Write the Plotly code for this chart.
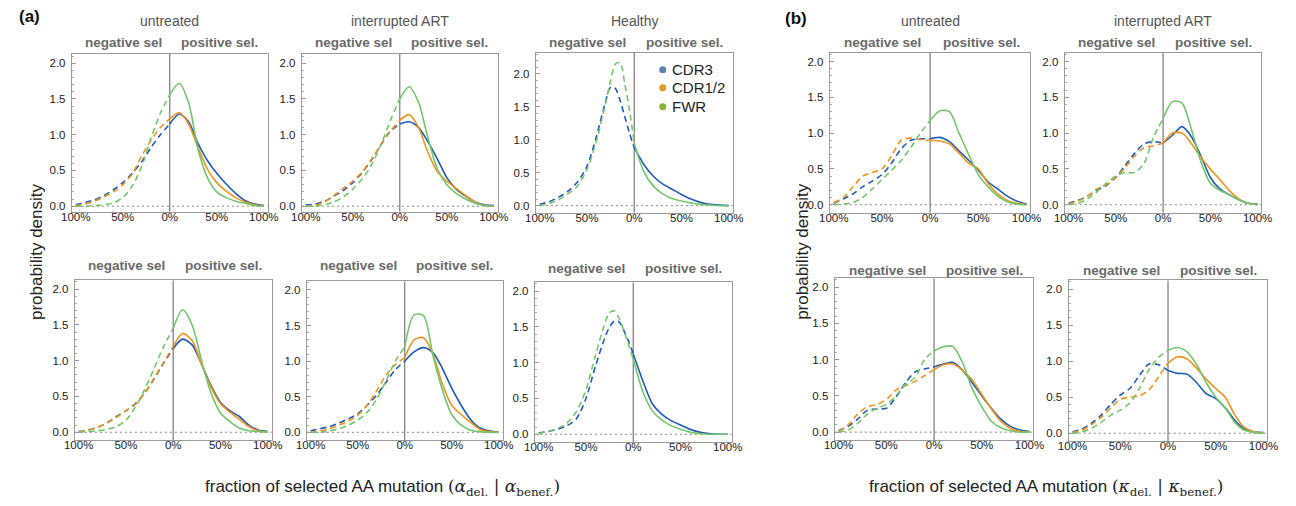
import plotly.graph_objects as go

W, H = 1296, 506

# ---------------- data ----------------
X = [-1.0, -0.9, -0.8, -0.7, -0.6, -0.5, -0.4, -0.3, -0.2, -0.1, 0.0,
     0.1, 0.2, 0.3, 0.4, 0.5, 0.6, 0.7, 0.8, 0.9, 1.0]
XH = [-1.0, -0.9, -0.8, -0.7, -0.6, -0.5, -0.4, -0.3, -0.25, -0.2, -0.15, -0.1, -0.05, 0.0,
      0.1, 0.2, 0.3, 0.4, 0.5, 0.6, 0.7, 0.8, 0.9, 1.0]

# (a) alpha, untreated, top
a11_cdr3 = [0.02, 0.05, 0.09, 0.15, 0.23, 0.33, 0.46, 0.62, 0.82, 1.0, 1.15, 1.29, 1.18, 0.88, 0.64, 0.46, 0.31, 0.18, 0.08, 0.03, 0.01]
a11_cdr12 = [0.01, 0.03, 0.07, 0.13, 0.2, 0.3, 0.45, 0.7, 0.92, 1.1, 1.22, 1.31, 1.15, 0.82, 0.52, 0.33, 0.21, 0.12, 0.06, 0.02, 0.0]
a11_fwr = [0.0, 0.0, 0.01, 0.02, 0.05, 0.12, 0.28, 0.55, 0.95, 1.3, 1.56, 1.72, 1.45, 0.8, 0.4, 0.2, 0.12, 0.07, 0.04, 0.01, 0.0]
# (a) alpha, interrupted ART, top
a12_cdr3 = [0.02, 0.03, 0.07, 0.14, 0.22, 0.33, 0.47, 0.65, 0.86, 1.05, 1.15, 1.18, 1.1, 0.9, 0.66, 0.4, 0.24, 0.14, 0.06, 0.02, 0.01]
a12_cdr12 = [0.0, 0.01, 0.06, 0.15, 0.25, 0.35, 0.48, 0.66, 0.86, 1.05, 1.2, 1.28, 1.1, 0.75, 0.48, 0.35, 0.25, 0.15, 0.06, 0.01, 0.0]
a12_fwr = [0.0, 0.0, 0.02, 0.06, 0.13, 0.24, 0.38, 0.58, 0.86, 1.2, 1.5, 1.67, 1.45, 0.95, 0.52, 0.3, 0.18, 0.1, 0.04, 0.01, 0.0]
# (a) alpha, Healthy, top
a13_cdr3 = [0.02, 0.06, 0.13, 0.22, 0.36, 0.6, 1.05, 1.6, 1.8, 1.78, 1.6, 1.35, 1.1, 0.88, 0.63, 0.45, 0.33, 0.25, 0.17, 0.1, 0.05, 0.02, 0.01, 0.0]
a13_fwr = [0.0, 0.03, 0.09, 0.18, 0.3, 0.55, 0.98, 1.58, 1.9, 2.15, 2.17, 1.85, 1.45, 0.95, 0.52, 0.3, 0.18, 0.11, 0.07, 0.04, 0.02, 0.01, 0.0, 0.0]
# (a) alpha, untreated, bottom
a21_cdr3 = [0.01, 0.03, 0.07, 0.13, 0.22, 0.3, 0.4, 0.55, 0.75, 0.97, 1.17, 1.3, 1.22, 0.95, 0.65, 0.42, 0.3, 0.22, 0.1, 0.03, 0.01]
a21_cdr12 = [0.01, 0.03, 0.07, 0.13, 0.21, 0.3, 0.39, 0.55, 0.76, 0.98, 1.2, 1.38, 1.28, 0.95, 0.63, 0.4, 0.28, 0.18, 0.08, 0.02, 0.0]
a21_fwr = [0.0, 0.01, 0.02, 0.04, 0.08, 0.17, 0.35, 0.6, 0.9, 1.2, 1.45, 1.71, 1.5, 1.0, 0.55, 0.27, 0.15, 0.06, 0.02, 0.01, 0.0]
# (a) alpha, interrupted ART, bottom
a22_cdr3 = [0.02, 0.05, 0.08, 0.13, 0.19, 0.26, 0.38, 0.52, 0.7, 0.88, 1.0, 1.13, 1.19, 1.12, 0.9, 0.62, 0.38, 0.18, 0.06, 0.02, 0.0]
a22_cdr12 = [0.0, 0.02, 0.05, 0.1, 0.16, 0.24, 0.38, 0.58, 0.8, 0.95, 1.05, 1.3, 1.33, 1.1, 0.68, 0.38, 0.25, 0.14, 0.04, 0.01, 0.0]
a22_fwr = [0.0, 0.0, 0.02, 0.05, 0.1, 0.17, 0.28, 0.46, 0.72, 1.0, 1.2, 1.65, 1.64, 1.08, 0.6, 0.25, 0.1, 0.03, 0.01, 0.0, 0.0]
# (a) alpha, Healthy, bottom
a23_cdr3 = [0.02, 0.04, 0.07, 0.12, 0.22, 0.5, 0.95, 1.35, 1.5, 1.58, 1.57, 1.45, 1.3, 1.12, 0.75, 0.43, 0.28, 0.19, 0.13, 0.07, 0.03, 0.01, 0.0, 0.0]
a23_fwr = [0.01, 0.04, 0.08, 0.16, 0.32, 0.62, 1.1, 1.55, 1.7, 1.72, 1.62, 1.45, 1.25, 1.05, 0.6, 0.33, 0.2, 0.12, 0.07, 0.03, 0.01, 0.0, 0.0, 0.0]

# (b) kappa, untreated, top
b11_cdr3 = [0.02, 0.08, 0.15, 0.25, 0.33, 0.42, 0.58, 0.78, 0.9, 0.92, 0.92, 0.94, 0.88, 0.75, 0.62, 0.48, 0.32, 0.22, 0.12, 0.05, 0.01]
b11_cdr12 = [0.03, 0.1, 0.25, 0.4, 0.45, 0.5, 0.68, 0.9, 0.93, 0.91, 0.9, 0.89, 0.85, 0.72, 0.58, 0.5, 0.3, 0.15, 0.06, 0.02, 0.0]
b11_fwr = [0.0, 0.01, 0.03, 0.1, 0.22, 0.35, 0.48, 0.62, 0.8, 1.0, 1.18, 1.31, 1.3, 1.0, 0.7, 0.42, 0.25, 0.12, 0.04, 0.01, 0.0]
# (b) kappa, interrupted ART, top
b12_cdr3 = [0.02, 0.06, 0.12, 0.2, 0.27, 0.38, 0.55, 0.72, 0.85, 0.88, 0.86, 0.97, 1.09, 0.95, 0.68, 0.38, 0.22, 0.14, 0.07, 0.02, 0.01]
b12_cdr12 = [0.01, 0.05, 0.12, 0.22, 0.28, 0.38, 0.52, 0.68, 0.8, 0.82, 0.86, 1.0, 1.0, 0.85, 0.66, 0.5, 0.35, 0.2, 0.08, 0.02, 0.0]
b12_fwr = [0.0, 0.02, 0.08, 0.18, 0.3, 0.4, 0.45, 0.45, 0.58, 0.95, 1.2, 1.44, 1.42, 1.05, 0.6, 0.3, 0.2, 0.14, 0.07, 0.02, 0.0]
# (b) kappa, untreated, bottom
b21_cdr3 = [0.02, 0.08, 0.18, 0.3, 0.32, 0.33, 0.48, 0.68, 0.83, 0.87, 0.9, 0.94, 0.96, 0.85, 0.68, 0.5, 0.33, 0.18, 0.08, 0.03, 0.01]
b21_cdr12 = [0.01, 0.1, 0.25, 0.35, 0.38, 0.45, 0.58, 0.64, 0.7, 0.78, 0.86, 0.93, 0.94, 0.85, 0.72, 0.52, 0.32, 0.15, 0.05, 0.01, 0.0]
b21_fwr = [0.0, 0.03, 0.12, 0.25, 0.33, 0.38, 0.5, 0.66, 0.75, 1.0, 1.12, 1.18, 1.18, 0.95, 0.6, 0.35, 0.15, 0.06, 0.02, 0.0, 0.0]
# (b) kappa, interrupted ART, bottom
b22_cdr3 = [0.02, 0.06, 0.14, 0.25, 0.4, 0.53, 0.62, 0.8, 0.96, 0.95, 0.87, 0.83, 0.82, 0.7, 0.55, 0.48, 0.35, 0.18, 0.06, 0.02, 0.01]
b22_cdr12 = [0.01, 0.04, 0.12, 0.22, 0.35, 0.47, 0.5, 0.52, 0.6, 0.78, 0.97, 1.06, 1.03, 0.9, 0.75, 0.62, 0.5, 0.25, 0.08, 0.02, 0.0]
b22_fwr = [0.0, 0.02, 0.07, 0.15, 0.25, 0.32, 0.42, 0.62, 0.88, 1.05, 1.15, 1.19, 1.13, 0.95, 0.7, 0.5, 0.35, 0.15, 0.04, 0.01, 0.0]

X_TICKS = [-1, -0.5, 0, 0.5, 1]
X_TICK_TEXT = ["100%", "50%", "0%", "50%", "100%"]
Y_TICKS = [0, 0.5, 1.0, 1.5, 2.0]
SERIES = ["CDR3", "CDR1/2", "FWR"]

# ---------------- styles ----------------
COL = {"CDR3": "#1f5cb8", "CDR1/2": "#f0931a", "FWR": "#72c66b"}
DOT = {"CDR3": "#5e81b5", "CDR1/2": "#e19c24", "FWR": "#8fb032"}
FONT = "Liberation Sans, Arial, sans-serif"

# panel: (x0px, x1px, y0px, y1px, yrange, xgrid, {series: values}, title)
panels = [
    (62, 261, 54, 212, [-0.075, 2.13], X, {"CDR3": a11_cdr3, "CDR1/2": a11_cdr12, "FWR": a11_fwr}, "untreated"),
    (296, 495, 54, 212, [-0.075, 2.13], X, {"CDR3": a12_cdr3, "CDR1/2": a12_cdr12, "FWR": a12_fwr}, "interrupted ART"),
    (534, 734, 53, 213, [-0.105, 2.32], XH, {"CDR3": a13_cdr3, "FWR": a13_fwr}, "Healthy"),
    (65, 265, 281, 441, [-0.11, 2.12], X, {"CDR3": a21_cdr3, "CDR1/2": a21_cdr12, "FWR": a21_fwr}, None),
    (301, 500, 282, 441, [-0.11, 2.12], X, {"CDR3": a22_cdr3, "CDR1/2": a22_cdr12, "FWR": a22_fwr}, None),
    (533, 733, 283, 443, [-0.11, 2.12], XH, {"CDR3": a23_cdr3, "FWR": a23_fwr}, None),
    (833, 1037, 53, 213, [-0.11, 2.12], X, {"CDR3": b11_cdr3, "CDR1/2": b11_cdr12, "FWR": b11_fwr}, "untreated"),
    (1072, 1272, 53, 213, [-0.11, 2.12], X, {"CDR3": b12_cdr3, "CDR1/2": b12_cdr12, "FWR": b12_fwr}, "interrupted ART"),
    (838, 1040, 279, 441, [-0.11, 2.12], X, {"CDR3": b21_cdr3, "CDR1/2": b21_cdr12, "FWR": b21_fwr}, None),
    (1076, 1278, 281, 442, [-0.11, 2.12], X, {"CDR3": b22_cdr3, "CDR1/2": b22_cdr12, "FWR": b22_fwr}, None),
]
sel_label_y = [42.7, 42.7, 42.7, 266, 266, 269, 42.7, 42.7, 271, 271]

fig = go.Figure()
shapes, annotations = [], []
layout = {}

for i, (px0, px1, py0, py1, yr, xg, series, title) in enumerate(panels, start=1):
    key = "" if i == 1 else str(i)
    xa, ya = f"x{key}", f"y{key}"
    for name in SERIES:
        if name not in series:
            continue
        vals = series[name]
        neg = [(x, v) for x, v in zip(xg, vals) if x <= 0]
        pos = [(x, v) for x, v in zip(xg, vals) if x >= 0]
        for part, dash in ((neg, "6px,4px"), (pos, "solid")):
            fig.add_trace(go.Scatter(
                x=[p[0] for p in part], y=[p[1] for p in part],
                mode="lines", line=dict(color=COL[name], width=1.6, dash=dash, shape="spline", smoothing=0.8),
                xaxis=xa, yaxis=ya, showlegend=False, hoverinfo="skip"))
    layout[f"xaxis{key}"] = dict(
        domain=[px0 / W, px1 / W], anchor=ya, range=[-1.04, 1.04],
        tickvals=X_TICKS, ticktext=X_TICK_TEXT, ticks="", showgrid=False, zeroline=False,
        showline=True, mirror=True, linecolor="#9a9a9a", linewidth=1.3,
        tickfont=dict(family=FONT, size=11.5, color="#222"), ticklabelstandoff=-6)
    layout[f"yaxis{key}"] = dict(
        domain=[1 - py1 / H, 1 - py0 / H], anchor=xa, range=yr,
        tickvals=Y_TICKS, tickformat=".1f", ticks="inside", ticklen=4, tickcolor="#999",
        minor=dict(ticks="inside", ticklen=2, dtick=0.1, tickcolor="#aaa", showgrid=False),
        showgrid=False, zeroline=False,
        showline=True, mirror=True, linecolor="#9a9a9a", linewidth=1.3,
        tickfont=dict(family=FONT, size=11.5, color="#222"), ticklabelstandoff=3)
    # vertical 0 line and dotted zero baseline
    shapes.append(dict(type="line", xref=xa, yref=f"{ya} domain", x0=0, x1=0, y0=0, y1=1,
                       line=dict(color="#7a7a7a", width=1.2), layer="below"))
    shapes.append(dict(type="line", xref=f"{xa} domain", yref=ya, x0=0, x1=1, y0=0, y1=0,
                       line=dict(color="#888", width=1, dash="2px,3px"), layer="below"))
    # labels
    ly = sel_label_y[i - 1]
    annotations.append(dict(text="<b>negative sel</b>", xref=xa, x=-0.49, yref="paper", y=1 - ly / H,
                            showarrow=False, font=dict(family=FONT, size=13.5, color="#6a6a6a"),
                            xanchor="center", yanchor="middle"))
    annotations.append(dict(text="<b>positive sel.</b>", xref=xa, x=0.53, yref="paper", y=1 - ly / H,
                            showarrow=False, font=dict(family=FONT, size=13.5, color="#6a6a6a"),
                            xanchor="center", yanchor="middle"))
    if title:
        annotations.append(dict(text=title, xref=xa, x=0, yref="paper", y=1 - 21 / H,
                                showarrow=False, font=dict(family=FONT, size=14, color="#555"),
                                xanchor="center", yanchor="middle"))

# panel letters
annotations.append(dict(text="<b>(a)</b>", xref="paper", yref="paper", x=19 / W, y=1 - 17 / H,
                        showarrow=False, font=dict(family=FONT, size=17, color="#111"), xanchor="center", yanchor="middle"))
annotations.append(dict(text="<b>(b)</b>", xref="paper", yref="paper", x=799 / W, y=1 - 19 / H,
                        showarrow=False, font=dict(family=FONT, size=17, color="#111"), xanchor="center", yanchor="middle"))
# y titles
for xpx in (26, 805):
    annotations.append(dict(text="probability density", xref="paper", yref="paper", x=xpx / W, y=1 - 252 / H,
                            textangle=-90, showarrow=False, font=dict(family=FONT, size=17, color="#222"),
                            xanchor="center", yanchor="middle"))
# x titles
SERIF = "DejaVu Serif, serif"
def xtitle(sym):
    return ("fraction of selected AA mutation "
            f"<span style='font-family:{SERIF}'>(<i>{sym}</i><sub>del.</sub> | <i>{sym}</i><sub>benef.</sub>)</span>")
annotations.append(dict(text=xtitle("α"), xref="paper", yref="paper", x=378 / W, y=1 - 488 / H,
                        showarrow=False, font=dict(family=FONT, size=17, color="#222"), xanchor="center", yanchor="middle"))
annotations.append(dict(text=xtitle("κ"), xref="paper", yref="paper", x=1053 / W, y=1 - 488 / H,
                        showarrow=False, font=dict(family=FONT, size=17, color="#222"), xanchor="center", yanchor="middle"))

# legend (dots + labels) inside Healthy panel
for k, (name, ypx) in enumerate(zip(SERIES, (70, 88, 107))):
    shapes.append(dict(type="circle", xref="paper", yref="paper", xsizemode="pixel", ysizemode="pixel",
                       xanchor=663 / W, yanchor=1 - ypx / H, x0=-3.5, x1=3.5, y0=-3.5, y1=3.5,
                       fillcolor=DOT[name], line=dict(width=0)))
    annotations.append(dict(text=name, xref="paper", yref="paper", x=670 / W, y=1 - ypx / H,
                            showarrow=False, font=dict(family=FONT, size=15, color="#222"),
                            xanchor="left", yanchor="middle"))

fig.update_layout(**layout)
fig.update_layout(width=W, height=H, margin=dict(l=0, r=0, t=0, b=0),
                  paper_bgcolor="white", plot_bgcolor="white",
                  shapes=shapes, annotations=annotations, showlegend=False)

fig.write_html("out.html")
